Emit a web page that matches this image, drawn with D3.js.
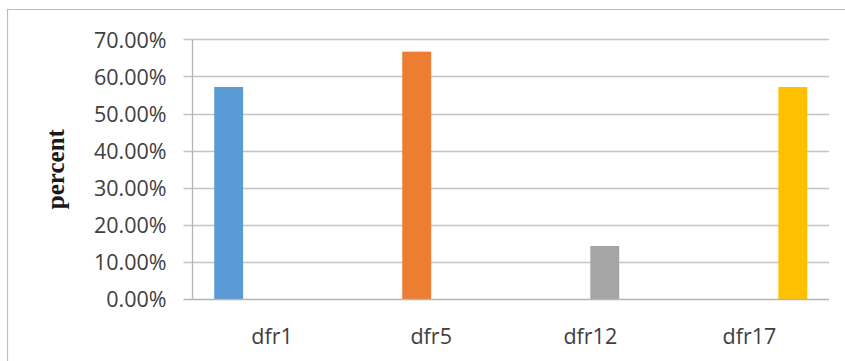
<!DOCTYPE html>
<html>
<head>
<meta charset="utf-8">
<script src="https://cdn.jsdelivr.net/npm/d3@7"></script>
<style>
  html, body { margin: 0; padding: 0; background: #fff; }
  svg { display: block; }
</style>
</head>
<body>
<svg id="chart" width="845" height="361"></svg>
<script>
// Share of each dfr group, one series per group
const categories = ["dfr1", "dfr5", "dfr12", "dfr17"];
const seriesNames = ["dfr1", "dfr5", "dfr12", "dfr17"];
const values = [0.5714, 0.6667, 0.1429, 0.5714];
const colors = ["#5B9BD5", "#ED7D31", "#A5A5A5", "#FFC000"];
const yTicks = [0, 0.1, 0.2, 0.3, 0.4, 0.5, 0.6, 0.7];
const yTitle = "percent";

const svg = d3.select("#chart");
const W = 845, H = 361;

// Chart-area frame (top and left edges fall inside the canvas)
svg.append("path")
  .attr("d", `M7.5,${H} V9.5 H${W}`)
  .attr("fill", "none")
  .attr("stroke", "#bdbdbd")
  .attr("stroke-width", 1.2);

const plot = { left: 192.5, right: 829, top: 39.3, bottom: 299 };

const y = d3.scaleLinear().domain([0, 0.7]).range([plot.bottom, plot.top]);
const x0 = d3.scaleBand().domain(categories).range([plot.left, plot.right]).padding(0);
const x1 = d3.scaleBand().domain(seriesNames).range([0, x0.bandwidth()])
  .paddingInner(0).paddingOuter(0.75);

// Horizontal gridlines (extended left as tick marks)
svg.append("g").selectAll("line")
  .data(yTicks.filter(t => t > 0))
  .join("line")
  .attr("x1", plot.left - 9).attr("x2", plot.right)
  .attr("y1", d => Math.round(y(d)) + 0.5).attr("y2", d => Math.round(y(d)) + 0.5)
  .attr("stroke", "#c4c4c4")
  .attr("stroke-width", 1.3);

// Y axis with percentage labels
const yAxis = d3.axisLeft(y)
  .tickValues(yTicks)
  .tickFormat(d3.format(".2%"))
  .tickSizeInner(0)
  .tickSizeOuter(0)
  .tickPadding(26);

const gy = svg.append("g")
  .attr("transform", `translate(${plot.left},0)`)
  .call(yAxis);
gy.select(".domain").remove();
gy.selectAll("text")
  .attr("font-family", "'Open Sans', sans-serif")
  .attr("font-size", 21.5)
  .attr("fill", "#404040")
  .attr("dy", "0.36em");

// Vertical axis line
svg.append("line")
  .attr("x1", plot.left).attr("x2", plot.left)
  .attr("y1", plot.top).attr("y2", plot.bottom)
  .attr("stroke", "#b4b4b4")
  .attr("stroke-width", 1.3);

// Bars: each series sits in its own slot of the clustered layout
const data = categories.map((c, i) => ({ cat: c, series: seriesNames[i], value: values[i], color: colors[i] }));
svg.append("g").selectAll("rect")
  .data(data)
  .join("rect")
  .attr("x", d => x0(d.cat) + x1(d.series))
  .attr("width", x1.bandwidth())
  .attr("y", d => y(d.value))
  .attr("height", d => y(0) - y(d.value))
  .attr("fill", d => d.color);

// Baseline
svg.append("line")
  .attr("x1", plot.left - 9).attr("x2", plot.right)
  .attr("y1", Math.round(y(0)) + 0.5).attr("y2", Math.round(y(0)) + 0.5)
  .attr("stroke", "#b4b4b4")
  .attr("stroke-width", 1.3);

// Category labels
const xAxis = d3.axisBottom(x0).tickSize(0).tickPadding(30);
const gx = svg.append("g")
  .attr("transform", `translate(0,${plot.bottom})`)
  .call(xAxis);
gx.select(".domain").remove();
gx.selectAll("text")
  .attr("font-family", "'Open Sans', sans-serif")
  .attr("font-size", 21.5)
  .attr("fill", "#404040");

// Y-axis title
svg.append("text")
  .attr("transform", `translate(64,${(plot.top + plot.bottom) / 2}) rotate(-90)`)
  .attr("text-anchor", "middle")
  .attr("font-family", "'Liberation Serif', 'Times New Roman', serif")
  .attr("font-weight", "bold")
  .attr("font-size", 25)
  .attr("fill", "#1a1a1a")
  .text(yTitle);
</script>
</body>
</html>
